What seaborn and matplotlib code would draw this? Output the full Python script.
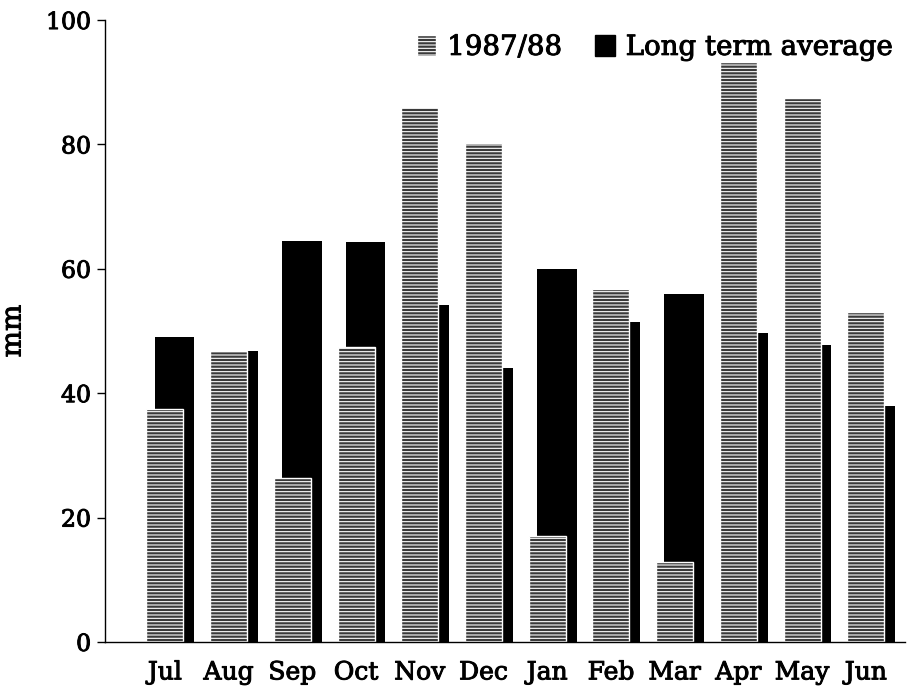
import numpy as np
import pandas as pd
import matplotlib
matplotlib.use('Agg')
import matplotlib.pyplot as plt
import matplotlib.patheffects as pe
from matplotlib.patches import Patch
import seaborn as sns

# monthly rainfall (mm)
months = ['Jul', 'Aug', 'Sep', 'Oct', 'Nov', 'Dec', 'Jan', 'Feb', 'Mar', 'Apr', 'May', 'Jun']
season_8788 = [37.5, 46.8, 26.3, 47.5, 86.0, 80.2, 17.0, 56.7, 12.9, 93.2, 87.4, 53.0]
long_term = [49.0, 46.8, 64.5, 64.3, 54.2, 44.0, 60.0, 51.5, 56.0, 49.7, 47.7, 38.0]
yticks = [0, 20, 40, 60, 80, 100]

sns.set_theme(style='white')
plt.rcParams['font.family'] = ['DejaVu Serif']
plt.rcParams['text.color'] = 'black'
plt.rcParams['xtick.color'] = 'black'
plt.rcParams['ytick.color'] = 'black'
plt.rcParams['axes.labelcolor'] = 'black'
plt.rcParams['hatch.linewidth'] = 0.8

# slightly heavier strokes, like the printed original
thick = [pe.withStroke(linewidth=0.7, foreground='black')]

pos = np.arange(len(months))
df_avg = pd.DataFrame({'x': pos + 0.15, 'mm': long_term})
df_88 = pd.DataFrame({'x': pos.astype(float), 'mm': season_8788})

fig = plt.figure(figsize=(9.21, 6.91), dpi=100)
ax = fig.add_axes([0.114, 0.071, 0.869, 0.9])

# long term average behind, offset to the right
sns.barplot(data=df_avg, x='x', y='mm', native_scale=True, width=0.62,
            color='black', saturation=1, edgecolor='black', linewidth=0,
            errorbar=None, ax=ax)
sns.barplot(data=df_88, x='x', y='mm', native_scale=True, width=0.58,
            color='#3a3a3a', saturation=1, edgecolor='white', linewidth=1,
            hatch='-----', errorbar=None, ax=ax)

ax.set_xlim(-0.94, 11.62)
ax.set_ylim(0, 100)
ax.set_xticks(pos)
ax.set_xticklabels(months, fontsize=18)
ax.set_yticks(yticks)
ax.set_yticklabels([str(t) for t in yticks], fontsize=17)
ax.tick_params(axis='y', length=6, width=1, direction='out', left=True, pad=4)
ax.tick_params(axis='x', length=0, pad=14)
ax.set_xlabel('')
ax.set_ylabel('mm', fontsize=20, labelpad=14)
for t in ax.get_xticklabels() + ax.get_yticklabels() + [ax.yaxis.label]:
    t.set_path_effects(thick)

sns.despine(ax=ax)
for s in ['left', 'bottom']:
    ax.spines[s].set_color('black')
    ax.spines[s].set_linewidth(1)

handles = [Patch(facecolor='#3a3a3a', edgecolor='white', hatch='-----'),
           Patch(facecolor='black', edgecolor='black')]
leg = ax.legend(handles, ['1987/88', 'Long term average'], ncol=2, frameon=False,
                loc='upper right', bbox_to_anchor=(0.996, 0.987), bbox_transform=fig.transFigure,
                prop={'size': 19.9}, handlelength=0.7, handleheight=0.8,
                handletextpad=0.4, columnspacing=1.2)
for t in leg.get_texts():
    t.set_path_effects(thick)

fig.savefig('out.png', dpi=100)
